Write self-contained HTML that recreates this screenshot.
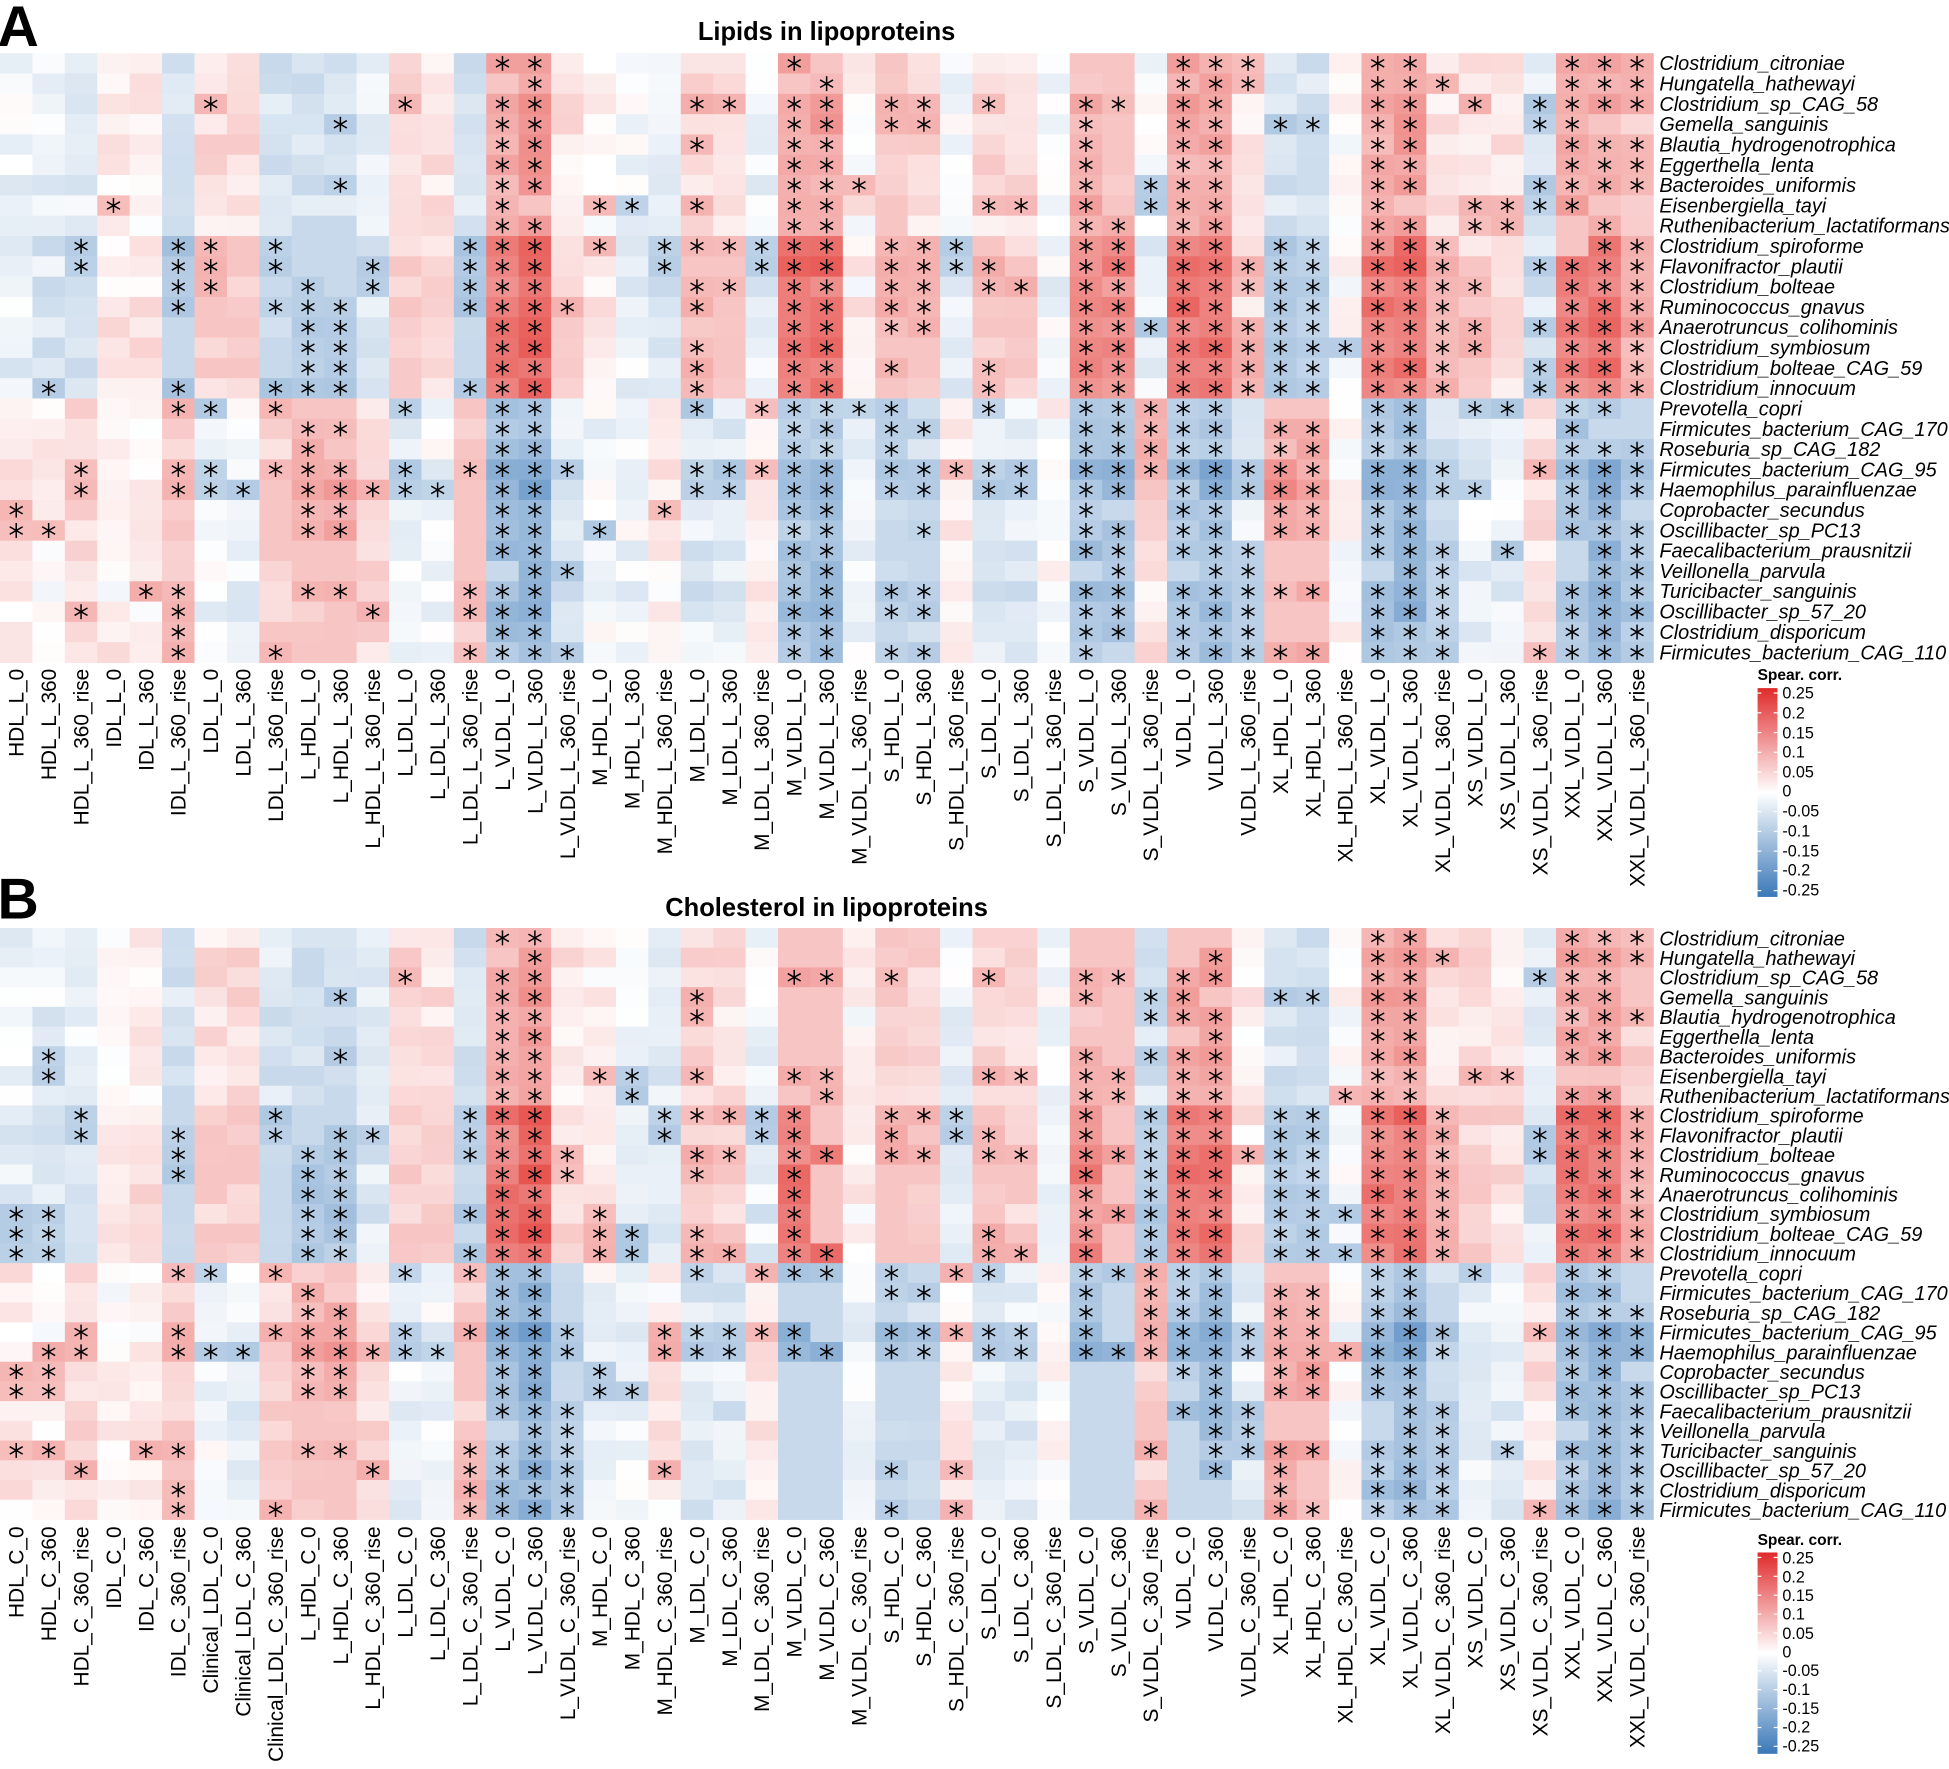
<!DOCTYPE html>
<html><head><meta charset="utf-8">
<style>
html,body{margin:0;padding:0;background:#fff;}
svg{display:block;}
text{font-family:"Liberation Sans",Arial,sans-serif;}
.rl{font-style:italic;font-size:16px;}
.cl{font-size:16.8px;}
.tt{font-weight:bold;font-size:20.5px;}
.big{font-weight:bold;font-size:46px;}
.cbt{font-weight:bold;font-size:12.5px;}
.cbl{font-size:13px;}
</style></head>
<body>
<svg id="s" width="1949" height="1769" viewBox="0 0 1568 1423.2" xmlns="http://www.w3.org/2000/svg">
<rect x="0" y="0" width="1568" height="1424" fill="#fff"/>
<g id="cellsA"></g><g id="cellsB"></g>
<g id="starsA" stroke="#000" stroke-width="1.2"></g><g id="starsB" stroke="#000" stroke-width="1.2"></g>
<defs>
<linearGradient id="cg" x1="0" y1="0" x2="0" y2="1">
<stop offset="0" stop-color="#E02A2B"/><stop offset="0.5" stop-color="#FFFFFF"/><stop offset="1" stop-color="#3A78B8"/>
</linearGradient>
</defs>
<text class="big" x="-2" y="37">A</text>
<text class="big" x="-2" y="739">B</text>
<text class="tt" x="665" y="32" text-anchor="middle">Lipids in lipoproteins</text>
<text class="tt" x="665" y="737" text-anchor="middle">Cholesterol in lipoproteins</text>

<g id="rowA">
<text class="rl" x="1335" y="56.5">Clostridium_citroniae</text>
<text class="rl" x="1335" y="72.8">Hungatella_hathewayi</text>
<text class="rl" x="1335" y="89.2">Clostridium_sp_CAG_58</text>
<text class="rl" x="1335" y="105.5">Gemella_sanguinis</text>
<text class="rl" x="1335" y="121.9">Blautia_hydrogenotrophica</text>
<text class="rl" x="1335" y="138.2">Eggerthella_lenta</text>
<text class="rl" x="1335" y="154.5">Bacteroides_uniformis</text>
<text class="rl" x="1335" y="170.9">Eisenbergiella_tayi</text>
<text class="rl" x="1335" y="187.2">Ruthenibacterium_lactatiformans</text>
<text class="rl" x="1335" y="203.6">Clostridium_spiroforme</text>
<text class="rl" x="1335" y="219.9">Flavonifractor_plautii</text>
<text class="rl" x="1335" y="236.2">Clostridium_bolteae</text>
<text class="rl" x="1335" y="252.6">Ruminococcus_gnavus</text>
<text class="rl" x="1335" y="268.9">Anaerotruncus_colihominis</text>
<text class="rl" x="1335" y="285.3">Clostridium_symbiosum</text>
<text class="rl" x="1335" y="301.6">Clostridium_bolteae_CAG_59</text>
<text class="rl" x="1335" y="317.9">Clostridium_innocuum</text>
<text class="rl" x="1335" y="334.3">Prevotella_copri</text>
<text class="rl" x="1335" y="350.6">Firmicutes_bacterium_CAG_170</text>
<text class="rl" x="1335" y="367.0">Roseburia_sp_CAG_182</text>
<text class="rl" x="1335" y="383.3">Firmicutes_bacterium_CAG_95</text>
<text class="rl" x="1335" y="399.6">Haemophilus_parainfluenzae</text>
<text class="rl" x="1335" y="416.0">Coprobacter_secundus</text>
<text class="rl" x="1335" y="432.3">Oscillibacter_sp_PC13</text>
<text class="rl" x="1335" y="448.7">Faecalibacterium_prausnitzii</text>
<text class="rl" x="1335" y="465.0">Veillonella_parvula</text>
<text class="rl" x="1335" y="481.3">Turicibacter_sanguinis</text>
<text class="rl" x="1335" y="497.7">Oscillibacter_sp_57_20</text>
<text class="rl" x="1335" y="514.0">Clostridium_disporicum</text>
<text class="rl" x="1335" y="530.4">Firmicutes_bacterium_CAG_110</text>
</g>
<g id="rowB">
<text class="rl" x="1335" y="760.5">Clostridium_citroniae</text>
<text class="rl" x="1335" y="776.4">Hungatella_hathewayi</text>
<text class="rl" x="1335" y="792.2">Clostridium_sp_CAG_58</text>
<text class="rl" x="1335" y="808.1">Gemella_sanguinis</text>
<text class="rl" x="1335" y="823.9">Blautia_hydrogenotrophica</text>
<text class="rl" x="1335" y="839.8">Eggerthella_lenta</text>
<text class="rl" x="1335" y="855.7">Bacteroides_uniformis</text>
<text class="rl" x="1335" y="871.5">Eisenbergiella_tayi</text>
<text class="rl" x="1335" y="887.4">Ruthenibacterium_lactatiformans</text>
<text class="rl" x="1335" y="903.2">Clostridium_spiroforme</text>
<text class="rl" x="1335" y="919.1">Flavonifractor_plautii</text>
<text class="rl" x="1335" y="935.0">Clostridium_bolteae</text>
<text class="rl" x="1335" y="950.8">Ruminococcus_gnavus</text>
<text class="rl" x="1335" y="966.7">Anaerotruncus_colihominis</text>
<text class="rl" x="1335" y="982.5">Clostridium_symbiosum</text>
<text class="rl" x="1335" y="998.4">Clostridium_bolteae_CAG_59</text>
<text class="rl" x="1335" y="1014.3">Clostridium_innocuum</text>
<text class="rl" x="1335" y="1030.1">Prevotella_copri</text>
<text class="rl" x="1335" y="1046.0">Firmicutes_bacterium_CAG_170</text>
<text class="rl" x="1335" y="1061.8">Roseburia_sp_CAG_182</text>
<text class="rl" x="1335" y="1077.7">Firmicutes_bacterium_CAG_95</text>
<text class="rl" x="1335" y="1093.6">Haemophilus_parainfluenzae</text>
<text class="rl" x="1335" y="1109.4">Coprobacter_secundus</text>
<text class="rl" x="1335" y="1125.3">Oscillibacter_sp_PC13</text>
<text class="rl" x="1335" y="1141.1">Faecalibacterium_prausnitzii</text>
<text class="rl" x="1335" y="1157.0">Veillonella_parvula</text>
<text class="rl" x="1335" y="1172.9">Turicibacter_sanguinis</text>
<text class="rl" x="1335" y="1188.7">Oscillibacter_sp_57_20</text>
<text class="rl" x="1335" y="1204.6">Clostridium_disporicum</text>
<text class="rl" x="1335" y="1220.4">Firmicutes_bacterium_CAG_110</text>
</g>

<g id="colA" class="cl" text-anchor="end">
<text transform="translate(19.0,538) rotate(-90)">HDL_L_0</text>
<text transform="translate(45.1,538) rotate(-90)">HDL_L_360</text>
<text transform="translate(71.2,538) rotate(-90)">HDL_L_360_rise</text>
<text transform="translate(97.2,538) rotate(-90)">IDL_L_0</text>
<text transform="translate(123.3,538) rotate(-90)">IDL_L_360</text>
<text transform="translate(149.4,538) rotate(-90)">IDL_L_360_rise</text>
<text transform="translate(175.5,538) rotate(-90)">LDL_L_0</text>
<text transform="translate(201.6,538) rotate(-90)">LDL_L_360</text>
<text transform="translate(227.6,538) rotate(-90)">LDL_L_360_rise</text>
<text transform="translate(253.7,538) rotate(-90)">L_HDL_L_0</text>
<text transform="translate(279.8,538) rotate(-90)">L_HDL_L_360</text>
<text transform="translate(305.9,538) rotate(-90)">L_HDL_L_360_rise</text>
<text transform="translate(332.0,538) rotate(-90)">L_LDL_L_0</text>
<text transform="translate(358.0,538) rotate(-90)">L_LDL_L_360</text>
<text transform="translate(384.1,538) rotate(-90)">L_LDL_L_360_rise</text>
<text transform="translate(410.2,538) rotate(-90)">L_VLDL_L_0</text>
<text transform="translate(436.3,538) rotate(-90)">L_VLDL_L_360</text>
<text transform="translate(462.4,538) rotate(-90)">L_VLDL_L_360_rise</text>
<text transform="translate(488.4,538) rotate(-90)">M_HDL_L_0</text>
<text transform="translate(514.5,538) rotate(-90)">M_HDL_L_360</text>
<text transform="translate(540.6,538) rotate(-90)">M_HDL_L_360_rise</text>
<text transform="translate(566.7,538) rotate(-90)">M_LDL_L_0</text>
<text transform="translate(592.8,538) rotate(-90)">M_LDL_L_360</text>
<text transform="translate(618.8,538) rotate(-90)">M_LDL_L_360_rise</text>
<text transform="translate(644.9,538) rotate(-90)">M_VLDL_L_0</text>
<text transform="translate(671.0,538) rotate(-90)">M_VLDL_L_360</text>
<text transform="translate(697.1,538) rotate(-90)">M_VLDL_L_360_rise</text>
<text transform="translate(723.2,538) rotate(-90)">S_HDL_L_0</text>
<text transform="translate(749.2,538) rotate(-90)">S_HDL_L_360</text>
<text transform="translate(775.3,538) rotate(-90)">S_HDL_L_360_rise</text>
<text transform="translate(801.4,538) rotate(-90)">S_LDL_L_0</text>
<text transform="translate(827.5,538) rotate(-90)">S_LDL_L_360</text>
<text transform="translate(853.6,538) rotate(-90)">S_LDL_L_360_rise</text>
<text transform="translate(879.6,538) rotate(-90)">S_VLDL_L_0</text>
<text transform="translate(905.7,538) rotate(-90)">S_VLDL_L_360</text>
<text transform="translate(931.8,538) rotate(-90)">S_VLDL_L_360_rise</text>
<text transform="translate(957.9,538) rotate(-90)">VLDL_L_0</text>
<text transform="translate(984.0,538) rotate(-90)">VLDL_L_360</text>
<text transform="translate(1010.0,538) rotate(-90)">VLDL_L_360_rise</text>
<text transform="translate(1036.1,538) rotate(-90)">XL_HDL_L_0</text>
<text transform="translate(1062.2,538) rotate(-90)">XL_HDL_L_360</text>
<text transform="translate(1088.3,538) rotate(-90)">XL_HDL_L_360_rise</text>
<text transform="translate(1114.4,538) rotate(-90)">XL_VLDL_L_0</text>
<text transform="translate(1140.4,538) rotate(-90)">XL_VLDL_L_360</text>
<text transform="translate(1166.5,538) rotate(-90)">XL_VLDL_L_360_rise</text>
<text transform="translate(1192.6,538) rotate(-90)">XS_VLDL_L_0</text>
<text transform="translate(1218.7,538) rotate(-90)">XS_VLDL_L_360</text>
<text transform="translate(1244.8,538) rotate(-90)">XS_VLDL_L_360_rise</text>
<text transform="translate(1270.8,538) rotate(-90)">XXL_VLDL_L_0</text>
<text transform="translate(1296.9,538) rotate(-90)">XXL_VLDL_L_360</text>
<text transform="translate(1323.0,538) rotate(-90)">XXL_VLDL_L_360_rise</text>
</g>
<g id="colB" class="cl" text-anchor="end">
<text transform="translate(19.0,1228) rotate(-90)">HDL_C_0</text>
<text transform="translate(45.1,1228) rotate(-90)">HDL_C_360</text>
<text transform="translate(71.2,1228) rotate(-90)">HDL_C_360_rise</text>
<text transform="translate(97.2,1228) rotate(-90)">IDL_C_0</text>
<text transform="translate(123.3,1228) rotate(-90)">IDL_C_360</text>
<text transform="translate(149.4,1228) rotate(-90)">IDL_C_360_rise</text>
<text transform="translate(175.5,1228) rotate(-90)">Clinical_LDL_C_0</text>
<text transform="translate(201.6,1228) rotate(-90)">Clinical_LDL_C_360</text>
<text transform="translate(227.6,1228) rotate(-90)">Clinical_LDL_C_360_rise</text>
<text transform="translate(253.7,1228) rotate(-90)">L_HDL_C_0</text>
<text transform="translate(279.8,1228) rotate(-90)">L_HDL_C_360</text>
<text transform="translate(305.9,1228) rotate(-90)">L_HDL_C_360_rise</text>
<text transform="translate(332.0,1228) rotate(-90)">L_LDL_C_0</text>
<text transform="translate(358.0,1228) rotate(-90)">L_LDL_C_360</text>
<text transform="translate(384.1,1228) rotate(-90)">L_LDL_C_360_rise</text>
<text transform="translate(410.2,1228) rotate(-90)">L_VLDL_C_0</text>
<text transform="translate(436.3,1228) rotate(-90)">L_VLDL_C_360</text>
<text transform="translate(462.4,1228) rotate(-90)">L_VLDL_C_360_rise</text>
<text transform="translate(488.4,1228) rotate(-90)">M_HDL_C_0</text>
<text transform="translate(514.5,1228) rotate(-90)">M_HDL_C_360</text>
<text transform="translate(540.6,1228) rotate(-90)">M_HDL_C_360_rise</text>
<text transform="translate(566.7,1228) rotate(-90)">M_LDL_C_0</text>
<text transform="translate(592.8,1228) rotate(-90)">M_LDL_C_360</text>
<text transform="translate(618.8,1228) rotate(-90)">M_LDL_C_360_rise</text>
<text transform="translate(644.9,1228) rotate(-90)">M_VLDL_C_0</text>
<text transform="translate(671.0,1228) rotate(-90)">M_VLDL_C_360</text>
<text transform="translate(697.1,1228) rotate(-90)">M_VLDL_C_360_rise</text>
<text transform="translate(723.2,1228) rotate(-90)">S_HDL_C_0</text>
<text transform="translate(749.2,1228) rotate(-90)">S_HDL_C_360</text>
<text transform="translate(775.3,1228) rotate(-90)">S_HDL_C_360_rise</text>
<text transform="translate(801.4,1228) rotate(-90)">S_LDL_C_0</text>
<text transform="translate(827.5,1228) rotate(-90)">S_LDL_C_360</text>
<text transform="translate(853.6,1228) rotate(-90)">S_LDL_C_360_rise</text>
<text transform="translate(879.6,1228) rotate(-90)">S_VLDL_C_0</text>
<text transform="translate(905.7,1228) rotate(-90)">S_VLDL_C_360</text>
<text transform="translate(931.8,1228) rotate(-90)">S_VLDL_C_360_rise</text>
<text transform="translate(957.9,1228) rotate(-90)">VLDL_C_0</text>
<text transform="translate(984.0,1228) rotate(-90)">VLDL_C_360</text>
<text transform="translate(1010.0,1228) rotate(-90)">VLDL_C_360_rise</text>
<text transform="translate(1036.1,1228) rotate(-90)">XL_HDL_C_0</text>
<text transform="translate(1062.2,1228) rotate(-90)">XL_HDL_C_360</text>
<text transform="translate(1088.3,1228) rotate(-90)">XL_HDL_C_360_rise</text>
<text transform="translate(1114.4,1228) rotate(-90)">XL_VLDL_C_0</text>
<text transform="translate(1140.4,1228) rotate(-90)">XL_VLDL_C_360</text>
<text transform="translate(1166.5,1228) rotate(-90)">XL_VLDL_C_360_rise</text>
<text transform="translate(1192.6,1228) rotate(-90)">XS_VLDL_C_0</text>
<text transform="translate(1218.7,1228) rotate(-90)">XS_VLDL_C_360</text>
<text transform="translate(1244.8,1228) rotate(-90)">XS_VLDL_C_360_rise</text>
<text transform="translate(1270.8,1228) rotate(-90)">XXL_VLDL_C_0</text>
<text transform="translate(1296.9,1228) rotate(-90)">XXL_VLDL_C_360</text>
<text transform="translate(1323.0,1228) rotate(-90)">XXL_VLDL_C_360_rise</text>
</g>

<text class="cbt" x="1414" y="547">Spear. corr.</text>
<rect x="1414" y="553.6" width="16" height="168" fill="url(#cg)"/>
<g class="cbl">
<text x="1434" y="562">0.25</text><text x="1434" y="578">0.2</text><text x="1434" y="594">0.15</text>
<text x="1434" y="609.5">0.1</text><text x="1434" y="625.5">0.05</text><text x="1434" y="641">0</text>
<text x="1434" y="657">-0.05</text><text x="1434" y="673">-0.1</text><text x="1434" y="689">-0.15</text>
<text x="1434" y="704.5">-0.2</text><text x="1434" y="720.5">-0.25</text>
</g>
<text class="cbt" x="1414" y="1243">Spear. corr.</text>
<rect x="1414" y="1249" width="16" height="162" fill="url(#cg)"/>
<g class="cbl">
<text x="1434" y="1258">0.25</text><text x="1434" y="1273">0.2</text><text x="1434" y="1288">0.15</text>
<text x="1434" y="1303">0.1</text><text x="1434" y="1318.5">0.05</text><text x="1434" y="1333.5">0</text>
<text x="1434" y="1348.5">-0.05</text><text x="1434" y="1363.5">-0.1</text><text x="1434" y="1379">-0.15</text>
<text x="1434" y="1394">-0.2</text><text x="1434" y="1409">-0.25</text>
</g>
<g id="ticks" stroke="#fff" stroke-width="1"></g>
</svg>
<script>
(function(){
var NS="http://www.w3.org/2000/svg";
var W=26.08, NC=51, NR=30;
var prof=[[-0.03,0.03],[-0.05,0.02],[-0.05,0.05],[0.03,0.02],[0.04,0.02],[-0.1,0.08],[0.07,-0.02],[0.07,-0.03],[-0.08,0.07],
[-0.1,0.1],[-0.1,0.12],[-0.05,0.05],[0.07,-0.03],[0.06,-0.02],[-0.1,0.08],[0.17,-0.15],[0.2,-0.17],[0.05,-0.05],
[0.02,-0.02],[-0.02,-0.02],[-0.05,0.03],[0.08,-0.05],[0.07,-0.05],[-0.03,0.03],[0.17,-0.13],[0.18,-0.15],[0.02,-0.03],
[0.1,-0.1],[0.08,-0.1],[-0.03,0.02],[0.08,-0.05],[0.07,-0.05],[-0.02,0.0],[0.15,-0.13],[0.15,-0.13],[-0.02,0.05],
[0.17,-0.12],[0.18,-0.15],[0.03,-0.05],[-0.08,0.12],[-0.08,0.12],[0.0,0.0],[0.17,-0.13],[0.18,-0.16],[0.05,-0.08],
[0.06,-0.04],[0.05,-0.03],[-0.05,0.04],[0.17,-0.13],[0.18,-0.16],[0.1,-0.12]];
var profB=prof.map(function(p){return p.slice();});
profB[35]=[-0.08,0.07];profB[17]=[0.05,-0.1];profB[44]=[0.05,-0.1];profB[14]=[-0.08,0.09];
var rowmod=function(r){return r<9?0.75:(r<17?1.2:(r<20?0.9:(r<22?1.25:1.0)));};
var starsA=[[15,16,24,36,37,38,42,43,48,49,50],[16,25,36,37,38,42,43,44,48,49,50],
[6,12,15,16,21,22,24,25,27,28,30,33,34,36,37,42,43,45,47,48,49,50],
[10,15,16,24,25,27,28,33,36,37,39,40,42,43,47,48],[15,16,21,24,25,33,36,37,42,43,48,49,50],
[15,16,24,25,33,36,37,42,43,48,49,50],[10,15,16,24,25,26,33,35,36,37,42,43,47,48,49,50],
[3,15,18,19,21,24,25,30,31,33,35,36,37,42,45,46,47,48],[15,16,24,25,33,34,36,37,42,43,45,46,49],
[2,5,6,8,14,15,16,18,20,21,22,23,24,25,27,28,29,33,34,36,37,39,40,42,43,44,49,50],
[2,5,6,8,11,14,15,16,20,23,24,25,27,28,29,30,33,34,36,37,38,39,40,42,43,44,47,48,49,50],
[5,6,9,11,14,15,16,21,22,24,25,27,28,30,31,33,34,36,37,38,39,40,42,43,44,45,48,49,50],
[5,8,9,10,14,15,16,17,21,24,25,27,28,33,34,36,37,39,40,42,43,44,48,49,50],
[9,10,15,16,24,25,27,28,33,34,35,36,37,38,39,40,42,43,44,45,47,48,49,50],
[9,10,15,16,21,24,25,33,34,36,37,38,39,40,41,42,43,44,45,48,49,50],
[9,10,15,16,21,24,25,27,30,33,34,36,37,38,39,40,42,43,44,47,48,49,50],
[1,5,8,9,10,14,15,16,21,24,25,30,33,34,36,37,38,39,40,42,43,44,47,48,49,50],
[5,6,8,12,15,16,21,23,24,25,26,27,30,33,34,35,36,37,42,43,45,46,48,49],
[9,10,15,16,24,25,27,28,33,34,35,36,37,39,40,42,43,48],
[9,15,16,24,25,27,33,34,35,36,37,39,40,42,43,48,49,50],
[2,5,6,8,9,10,12,14,15,16,17,21,22,23,24,25,27,28,29,30,31,33,34,35,36,37,38,39,40,42,43,44,47,48,49,50],
[2,5,6,7,9,10,11,12,13,15,16,21,22,24,25,27,28,30,31,33,34,36,37,38,39,40,42,43,44,45,48,49,50],
[0,9,10,15,16,20,24,25,33,36,37,39,40,42,43,48,49],
[0,1,9,10,15,16,18,24,25,28,33,34,36,37,39,40,42,43,48,49,50],
[15,16,24,25,33,34,36,37,38,42,43,44,46,49,50],[16,17,24,25,34,37,38,43,44,49,50],
[4,5,9,10,14,15,16,24,25,27,28,33,34,36,37,38,39,40,42,43,44,48,49,50],
[2,5,11,14,15,16,24,25,27,28,33,34,36,37,38,42,43,44,48,49,50],
[5,15,16,24,25,33,34,36,37,38,42,43,44,48,49,50],
[5,8,14,15,16,17,24,25,27,28,33,36,37,38,39,40,42,43,44,47,48,49,50]];
var starsB=[[15,16,42,43,48,49,50],[16,37,42,43,44,48,49,50],[12,15,16,24,25,27,30,33,34,36,37,42,43,47,48,49],
[10,15,16,21,33,35,36,39,40,42,43,48,49],[15,16,21,35,36,37,42,43,48,49,50],[15,16,37,42,43,48,49],
[1,10,15,16,33,35,36,37,42,43,48,49],[1,15,16,18,19,21,24,25,30,31,33,34,36,37,42,43,45,46],
[15,16,19,25,33,34,36,37,41,42,43,48,49],
[2,8,14,15,16,20,21,22,23,24,27,28,29,33,35,36,37,39,40,42,43,44,48,49,50],
[2,5,8,10,11,14,15,16,20,23,24,27,29,30,33,35,36,37,39,40,42,43,44,47,48,49,50],
[5,9,10,14,15,16,17,21,22,24,25,27,28,30,31,33,34,35,36,37,38,39,40,42,43,44,47,48,49,50],
[5,9,10,15,16,17,21,24,33,35,36,37,39,40,42,43,44,48,49,50],
[9,10,15,16,24,33,35,36,37,39,40,42,43,44,48,49,50],
[0,1,9,10,14,15,16,18,24,33,34,35,36,37,39,40,41,42,43,44,48,49,50],
[0,1,9,10,15,16,18,19,21,24,30,33,35,36,37,39,40,42,43,44,48,49,50],
[0,1,9,10,14,15,16,18,19,21,22,24,25,30,31,33,35,36,37,39,40,41,42,43,44,48,49,50],
[5,6,8,12,14,15,16,21,23,24,25,27,29,30,33,34,35,36,37,42,43,45,48,49],
[9,15,16,27,28,33,35,36,37,39,40,42,43,48,49],[9,10,15,16,33,35,36,37,39,40,42,43,48,49,50],
[2,5,8,9,10,12,14,15,16,17,20,21,22,23,24,27,28,29,30,31,33,35,36,37,38,39,40,42,43,44,47,48,49,50],
[1,2,5,6,7,9,10,11,12,13,15,16,17,20,21,22,24,25,27,28,30,31,33,34,35,36,37,38,39,40,41,42,43,44,48,49,50],
[0,1,9,10,15,16,18,36,37,39,40,42,43,48,49],[0,1,9,10,15,16,18,19,37,39,40,42,43,48,49,50],
[15,16,17,36,37,38,43,44,48,49,50],[16,17,37,38,43,44,49,50],
[0,1,4,5,9,10,14,15,16,17,35,37,38,39,40,42,43,44,46,48,49,50],
[2,11,14,15,16,17,20,27,29,37,39,42,43,44,48,49,50],[5,14,15,16,17,39,42,43,44,48,49,50],
[5,8,14,15,16,17,27,29,35,39,40,42,43,44,47,48,49,50]];
function noise(r,c,p){var x=Math.sin(r*12.9898+c*78.233+p*37.719)*43758.5453;return x-Math.floor(x)-0.5;}
function col(v){var t=Math.max(-1,Math.min(1,v/0.25));var R,G,B;
 if(t>=0){R=255+(226-255)*t;G=255+(50-255)*t;B=255+(45-255)*t;}
 else{t=-t;R=255+(58-255)*t;G=255+(120-255)*t;B=255+(184-255)*t;}
 return "rgb("+Math.round(R)+","+Math.round(G)+","+Math.round(B)+")";}
function star(g,cx,cy){var L=6;for(var k=0;k<3;k++){var a=Math.PI/2+k*Math.PI/3;
 var l=document.createElementNS(NS,"line");l.setAttribute("x1",(cx-L*Math.cos(a)).toFixed(2));l.setAttribute("y1",(cy-L*Math.sin(a)).toFixed(2));
 l.setAttribute("x2",(cx+L*Math.cos(a)).toFixed(2));l.setAttribute("y2",(cy+L*Math.sin(a)).toFixed(2));g.appendChild(l);}}
function panel(gid,sid,top,H,P,S,pi){
 var g=document.getElementById(gid),gs=document.getElementById(sid);
 for(var r=0;r<NR;r++){var set={};S[r].forEach(function(c){set[c]=1;});
  for(var c=0;c<NC;c++){var grp=r<17?0:1;var base=P[c][grp]*rowmod(r);
   var v=base+noise(r,c,pi)*0.06+noise(r,0,pi+3)*0.03;
   if(set[c]){var sg=base!==0?Math.sign(base):(Math.sign(v)||1);v=sg*Math.max(Math.abs(v),0.1+Math.abs(noise(c,r,pi+7))*0.06);}
   else{v=Math.max(-0.09,Math.min(0.09,v));}
   v*=0.78;
   var rc=document.createElementNS(NS,"rect");rc.setAttribute("x",(c*W).toFixed(2));rc.setAttribute("y",(top+r*H).toFixed(2));
   rc.setAttribute("width",(W+0.4).toFixed(2));rc.setAttribute("height",(H+0.4).toFixed(2));rc.setAttribute("fill",col(v));g.appendChild(rc);
   if(set[c])star(gs,c*W+W/2,top+r*H+H/2);}}}
panel("cellsA","starsA",42.8,16.34,prof,starsA,1);
panel("cellsB","starsB",746.6,15.86,profB,starsB,2);
var tk=document.getElementById("ticks");
function ticks(y0,y1){for(var i=0;i<11;i++){var y=y0+(y1-y0)*i/10;
 [[1414,1417],[1427,1430]].forEach(function(p){var l=document.createElementNS(NS,"line");l.setAttribute("x1",p[0]);l.setAttribute("x2",p[1]);l.setAttribute("y1",y);l.setAttribute("y2",y);tk.appendChild(l);});}}
ticks(557.6,716.5);ticks(1253,1405);
})();
</script>
</body></html>
